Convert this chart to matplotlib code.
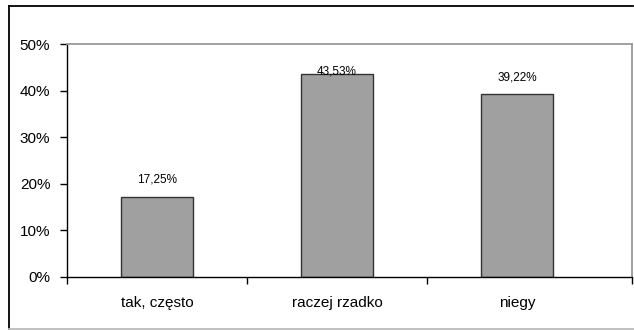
import matplotlib.pyplot as plt
from matplotlib.lines import Line2D
from matplotlib.ticker import FixedLocator, NullFormatter

categories = ['tak, często', 'raczej rzadko', 'niegy']
values = [17.25, 43.53, 39.22]
labels = ['17,25%', '43,53%', '39,22%']
yticks = [0, 10, 20, 30, 40, 50]

plt.rcParams['font.family'] = ['Liberation Sans', 'DejaVu Sans']

W, H = 634, 330
fig = plt.figure(figsize=(W / 100, H / 100), dpi=100)

# outer chart frame (cut off on the right)
fig.add_artist(Line2D([9 / W, 9 / W], [1 - 329 / H, 1 - 6 / H], color='black', lw=1.3))
fig.add_artist(Line2D([9 / W, 633 / W], [1 - 6 / H, 1 - 6 / H], color='black', lw=1.3))
fig.add_artist(Line2D([9 / W, 1], [1 - 329 / H, 1 - 329 / H], color='#bbbbbb', lw=1.3))

ax = fig.add_axes([67 / W, 1 - 277 / H, (632 - 67) / W, (277 - 44) / H])

x = list(range(len(categories)))
ax.bar(x, values, width=0.4, color='#a0a0a0', edgecolor='#333333', linewidth=1)

for xi, v, lab in zip(x, values, labels):
    ax.text(xi, min(v + 2.4, 42.9), lab, ha='center', va='bottom', fontsize=8.5)

ax.set_ylim(0, 50)
ax.set_xlim(-0.5, (632 - 67) / 180 - 0.5)
ax.set_yticks(yticks)
ax.set_yticklabels([f'{t}%' for t in yticks])

ax.set_xticks(x)
ax.set_xticklabels(categories)
ax.xaxis.set_minor_locator(FixedLocator([-0.5, 0.5, 1.5, ax.get_xlim()[1]]))
ax.xaxis.set_minor_formatter(NullFormatter())
ax.tick_params(axis='x', which='major', length=0, pad=14, labelsize=11)
ax.tick_params(axis='x', which='minor', length=5, width=1, direction='out')
ax.tick_params(axis='y', length=5, width=1, direction='out', pad=7, labelsize=11)

for s in ['top', 'right']:
    ax.spines[s].set_color('#999999')
    ax.spines[s].set_linewidth(1.3)
for s in ['left', 'bottom']:
    ax.spines[s].set_color('black')
    ax.spines[s].set_linewidth(1)

fig.savefig('out.png', dpi=100)
